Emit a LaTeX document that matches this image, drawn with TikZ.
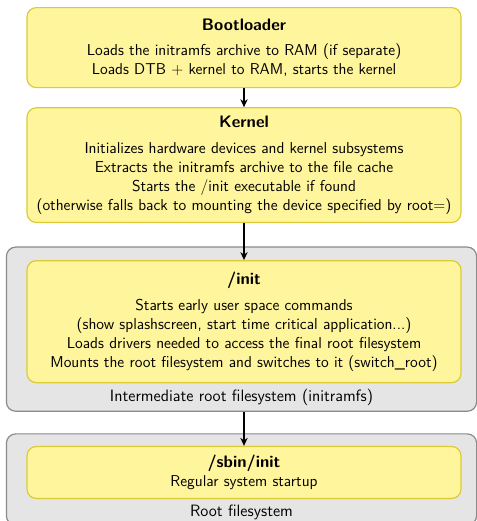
\documentclass[tikz,border=0pt]{standalone}
\usetikzlibrary{arrows.meta,positioning,fit,calc,backgrounds}
\definecolor{stageFill}{HTML}{FFF59D}
\definecolor{stageLine}{HTML}{DCCB34}
\definecolor{fsFill}{HTML}{E5E5E5}
\definecolor{fsLine}{HTML}{8A8A8A}
\newcommand{\stagetitle}[1]{{\fontsize{12.5}{15}\selectfont\bfseries #1}}

\begin{document}
\begin{tikzpicture}[
  x=0.75pt, y=-0.75pt,
  stage/.style={draw=stageLine, line width=0.9pt, rounded corners=7pt, fill=stageFill,
                minimum width=325.5pt, text width=322pt, inner xsep=0pt,
                font=\sffamily\fontsize{11.8}{14.3}\selectfont, align=center},
  fsbox/.style={draw=fsLine, line width=0.9pt, rounded corners=7pt, fill=fsFill, inner sep=0pt},
  fslabel/.style={font=\sffamily\fontsize{12.3}{14}\selectfont},
  flow/.style={-{Stealth[length=6pt,width=5.5pt]}, line width=0.9pt}
]
  \useasboundingbox (0,0) rectangle (477,521);

  \node[stage, minimum height=60pt, anchor=north] (boot) at (244,7)
    {\stagetitle{Bootloader}\\[4pt]
     Loads the initramfs archive to RAM (if separate)\\
     Loads DTB + kernel to RAM, starts the kernel};
  \node[stage, minimum height=86pt, below=14.25pt of boot] (kern)
    {\stagetitle{Kernel}\\[5pt]
     Initializes hardware devices and kernel subsystems\\
     Extracts the initramfs archive to the file cache\\
     Starts the /init executable if found\\
     (otherwise falls back to mounting the device specified by root=)};
  \node[stage, minimum height=91.5pt, below=27.75pt of kern] (init)
    {\stagetitle{/init}\\[5pt]
     Starts early user space commands\\
     (show splashscreen, start time critical application...)\\
     Loads drivers needed to access the final root filesystem\\
     Mounts the root filesystem and switches to it (switch\_root)};

  % initramfs
  \begin{scope}[on background layer]
    \node[fsbox, fit={($(init.north west)+(-20,-13)$) ($(init.south east)+(15,28)$)}] (ramfs) {};
  \end{scope}
  \node[fslabel, above=1pt of ramfs.south] (ramfslabel) {Intermediate root filesystem (initramfs)};

  \node[stage, minimum height=39pt, below=25.5pt of ramfs.south -| init] (sbin)
    {\stagetitle{/sbin/init}\\
     Regular system startup};

  % root filesystem
  \begin{scope}[on background layer]
    \node[fsbox, fit={($(sbin.north west)+(-20,-12)$) ($(sbin.south east)+(15,26)$)}] (rootfs) {};
  \end{scope}
  \node[fslabel, above=1pt of rootfs.south] (rootfslabel) {Root filesystem};

  \draw[flow] (boot) -- (kern);
  \draw[flow] (kern) -- (init);
  \draw[flow] (ramfs.south -| sbin) -- (sbin);
\end{tikzpicture}
\end{document}
